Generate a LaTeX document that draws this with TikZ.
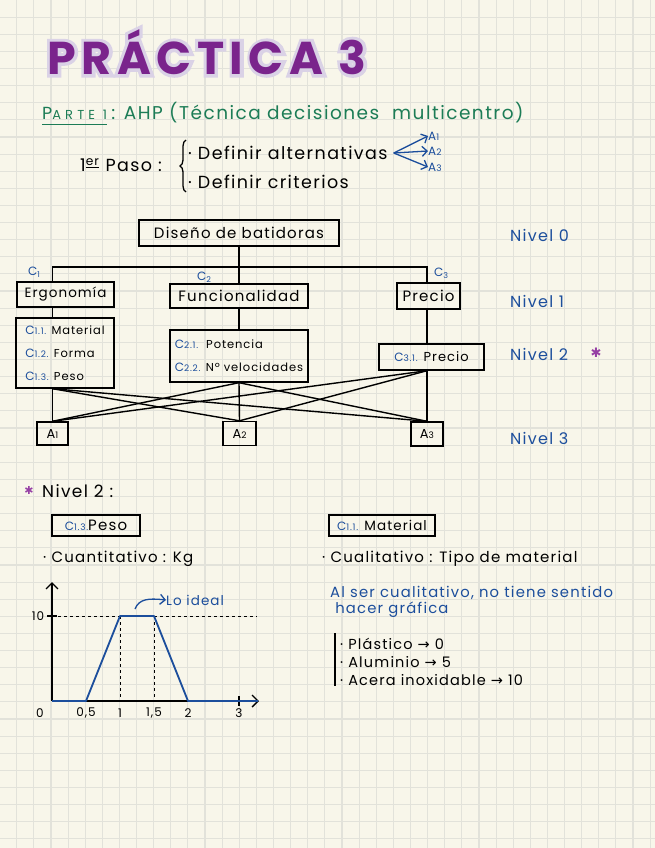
\documentclass[tikz,border=0pt]{standalone}
\usepackage{fontspec}
\setmainfont{Poppins}[LetterSpace=8]
\newfontfamily\symb{DejaVu Sans}
\usetikzlibrary{arrows.meta,positioning,decorations.pathreplacing}
\definecolor{apuntesPaper}{RGB}{248,246,234}
\definecolor{apuntesGrid}{RGB}{226,226,218}
\definecolor{apuntesPurple}{RGB}{122,36,140}
\definecolor{apuntesLilac}{RGB}{218,210,230}
\definecolor{apuntesGreen}{RGB}{28,124,86}
\definecolor{apuntesBlue}{RGB}{28,78,156}
\definecolor{apuntesStar}{RGB}{150,64,165}
\newcommand{\crit}[1]{{\color{apuntesBlue}\fontsize{12}{12}\selectfont C{\fontsize{9}{9}\selectfont #1}}}
\newcommand{\alt}[1]{A{\fontsize{9}{10}\selectfont #1}}

\begin{document}
\begin{tikzpicture}[
  x=1pt, y=-1pt,
  box/.style={
    draw,
    line width=1.4pt,
    inner sep=0pt,
    align=left,
    font=\fontsize{15}{17}\selectfont
  },
  subbox/.style={box,font=\fontsize{11.5}{23}\selectfont},
  hand/.style={anchor=west,inner sep=0pt,font=\fontsize{17.5}{20}\selectfont},
  note/.style={hand,text=apuntesBlue},
  level/.style={note,font=\fontsize{16}{18}\selectfont},
  small/.style={note,font=\fontsize{12}{13}\selectfont},
  tick/.style={anchor=center,inner sep=0pt,font=\fontsize{12}{13}\selectfont},
  link/.style={line width=1.4pt},
  tip/.style={-{Straight Barb[length=5pt]},line width=1.3pt}
]
  \useasboundingbox (0,0) rectangle (655,848);
  % cuadricula
  \fill[apuntesPaper] (0,0) rectangle (655,848);
  \foreach \i in {1,...,38}
    \draw[apuntesGrid,line width=1.1pt] (\i*17.12-0.4,0) -- ++(0,848);
  \foreach \j in {1,...,49}
    \draw[apuntesGrid,line width=1.1pt] (0,\j*17.12) -- ++(655,0);

  % titulo
  \node[text=apuntesLilac,font=\fontsize{46}{50}\selectfont\bfseries\addfontfeature{LetterSpace=12,FakeBold=14}]
    (tituloglow) at (207,52) {PRÁCTICA 3};
  \node[text=apuntesPurple,font=\fontsize{46}{50}\selectfont\bfseries\addfontfeature{LetterSpace=12}]
    (titulo) at (207,52) {PRÁCTICA 3};

  % parte 1
  \node[hand,text=apuntesGreen] (parte) at (42,113)
    {P{\fontsize{13}{14}\selectfont\addfontfeature{LetterSpace=32}ARTE 1}};
  \draw[apuntesGreen,line width=1.4pt] ([yshift=-5pt]parte.south west) -- ([yshift=-5pt]parte.south east);
  \node[hand,text=apuntesGreen,font=\fontsize{18.5}{20}\selectfont,right=4pt of parte] (ahp)
    {: AHP (Técnica decisiones \ multicentro)};

  % primer paso
  \node[hand] (paso) at (80,165) {1\textsuperscript{\underline{er}} Paso :};
  \draw[line width=1.3pt,decorate,decoration={brace,amplitude=6pt}] (186,192) -- (186,140);
  \node[hand] (alternativas) at (188,153) {· Definir alternativas};
  \node[hand] (criterios) at (188,182) {· Definir criterios};
  \coordinate[right=6pt of alternativas.east] (horquilla);
  \node[small] (a1lab) at (428,136) {\alt{1}};
  \node[small] (a2lab) at (428,151) {\alt{2}};
  \node[small] (a3lab) at (428,167) {\alt{3}};
  \draw[tip,apuntesBlue] (horquilla) -- (a1lab.west);
  \draw[tip,apuntesBlue] (horquilla) -- (a2lab.west);
  \draw[tip,apuntesBlue] (horquilla) -- (a3lab.west);

  % jerarquia
  \node[box,minimum width=200pt,minimum height=26pt] (raiz) at (239,233) {Diseño de batidoras};
  \node[box,minimum width=97pt,minimum height=25pt,font=\fontsize{13.5}{15}\selectfont] (ergo) at (65.5,294.5) {Ergonomía};
  \node[box,minimum width=138pt,minimum height=24pt] (func) at (239,296) {Funcionalidad};
  \node[box,minimum width=63pt,minimum height=26pt] (prec) at (428.5,296) {Precio};
  \node[subbox,minimum width=98pt,minimum height=70pt] (ergosub) at (65,353)
    {\crit{1.1.} Material\\\crit{1.2.} Forma\\\crit{1.3.} Peso};
  \node[subbox,minimum width=138pt,minimum height=52pt] (funcsub) at (239,356)
    {\crit{2.1.}\ \ Potencia\\\crit{2.2.} Nº velocidades};
  \node[subbox,minimum width=105pt,minimum height=26pt,font=\fontsize{13}{15}\selectfont] (precsub) at (431.5,357)
    {\crit{3.1.} Precio};
  \node[box,minimum width=31pt,minimum height=23pt,font=\fontsize{13}{15}\selectfont] (A1) at (52.5,433.5) {\alt{1}};
  \node[box,minimum width=33pt,minimum height=24pt,font=\fontsize{13}{15}\selectfont] (A2) at (239.5,433.5) {\alt{2}};
  \node[box,minimum width=32pt,minimum height=24pt,font=\fontsize{13}{15}\selectfont] (A3) at (427,434) {\alt{3}};

  \node[small] (c1) at (28,272) {C\textsubscript{1}};
  \node[small] (c2) at (197,277) {C\textsubscript{2}};
  \node[small] (c3) at (434,273) {C\textsubscript{3}};

  \coordinate (barra) at (239,267);
  \draw[link] (raiz) -- (func);
  \draw[link] (A1 |- ergo.north) |- (barra) -| (A3 |- prec.north);
  \draw[link] (A1 |- ergo.south) -- (A1 |- ergosub.north);
  \draw[link] (func) -- (funcsub);
  \draw[link] (A3 |- prec.south) -- (A3 |- precsub.north);
  \coordinate (ergobase) at (A1 |- ergosub.south);
  \coordinate (precbase) at (A3 |- precsub.south);
  \foreach \s in {ergobase,funcsub.south,precbase}
    \foreach \t in {A1,A2,A3}
      \draw[link] (\s) -- (\t.north);

  \node[level] (nivel0) at (510,235) {Nivel 0};
  \node[level] (nivel1) at (510,301) {Nivel 1};
  \node[level] (nivel2) at (510,354) {Nivel 2};
  \node[level] (nivel3) at (510,438) {Nivel 3};
  \node[anchor=center,text=apuntesStar,font=\symb\fontsize{13}{14}\selectfont] (estrella) at (596,353) {✱};

  % nivel 2: peso
  \node[anchor=center,text=apuntesStar,font=\symb\fontsize{11}{12}\selectfont] (estrella2) at (29,490) {✱};
  \node[hand,font=\fontsize{17}{20}\selectfont] (nivelpeso) at (42,491) {Nivel 2 :};
  \node[box,minimum width=88pt,minimum height=21pt,font=\fontsize{15}{17}\selectfont] (peso) at (96,525.5)
    {\crit{1.3.}Peso};
  \node[hand,font=\fontsize{15}{18}\selectfont] (cuanti) at (43,559) {· Cuantitativo : Kg};

  \coordinate (origen) at (52,701);
  \draw[link,-{Straight Barb[length=6pt]}] (origen) -- (52,582);
  \draw[link,-{Straight Barb[length=6pt]}] (origen) -- (259,701);
  \draw[dashed,line width=1pt] (52,616) -- (257,616);
  \draw[dashed,line width=1pt] (120,616) -- (120,701);
  \draw[dashed,line width=1pt] (154,616) -- (154,701);
  \draw[link] (47,616) -- (57,616);
  \draw[link] (239,696) -- (239,706);
  \draw[apuntesBlue,line width=1.8pt,line join=round]
    (origen) -- (86,701) -- (120,616) -- (154,616) -- (188,701) -- (258,701);
  \node[tick] at (38,616) {10};
  \node[tick] at (40,713) {0};
  \node[tick] at (86,713) {0,5};
  \node[tick] at (120,713) {1};
  \node[tick] at (154,713) {1,5};
  \node[tick] at (188,713) {2};
  \node[tick] at (239,713) {3};
  \node[note,font=\fontsize{13.5}{15}\selectfont] (ideal) at (166,600) {Lo ideal};
  \coordinate (techo) at (135,609);
  \draw[tip,apuntesBlue] (techo) .. controls (139,599) and (148,598) .. (ideal.west);

  % nivel 2: material
  \node[box,minimum width=106pt,minimum height=21pt,font=\fontsize{13.5}{15}\selectfont] (material) at (382,525.5)
    {\crit{1.1.} Material};
  \node[hand,font=\fontsize{15}{18}\selectfont] (cuali) at (322,559) {· Cualitativo : Tipo de material};
  \node[note,align=left,font=\fontsize{14.8}{15.5}\selectfont] (sentido) at (330,602)
    {Al ser cualitativo, no tiene sentido\\\ hacer gráfica};
  \draw[link] (335,633) -- (335,686);
  \node[hand,font=\fontsize{14.5}{16}\selectfont] (plastico) at (340,644) {· Plástico {\symb→} 0};
  \node[hand,font=\fontsize{14.5}{16}\selectfont] (aluminio) at (340,662) {· Aluminio {\symb→} 5};
  \node[hand,font=\fontsize{14.5}{16}\selectfont] (acero) at (340,680) {· Acera inoxidable {\symb→} 10};
\end{tikzpicture}
\end{document}
